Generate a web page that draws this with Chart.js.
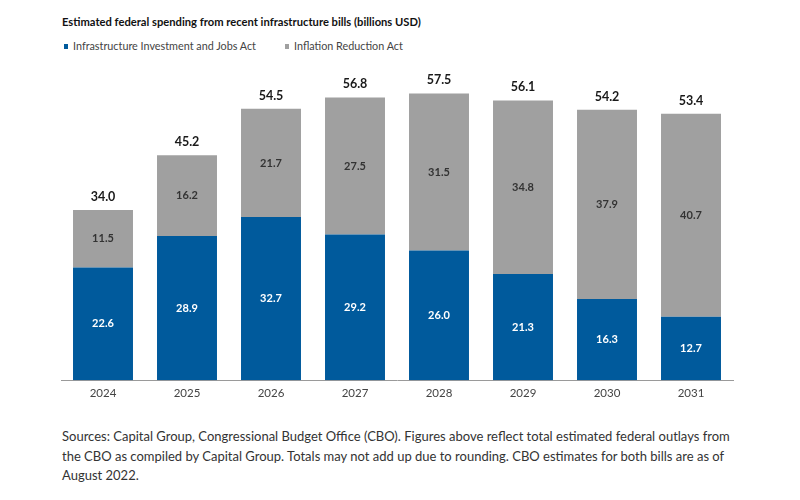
<!DOCTYPE html>
<html>
<head>
<meta charset="utf-8">
<script src="https://cdn.jsdelivr.net/npm/chart.js@4"></script>
<style>
  html, body { margin: 0; padding: 0; background: #fff; }
  body { width: 800px; height: 500px; position: relative; overflow: hidden; font-family: Lato, "Open Sans", sans-serif; }
  #title { position: absolute; left: 62px; top: 15px; font-size: 11.2px; font-weight: bold; color: #111; white-space: nowrap; }
  #legend { position: absolute; left: 64px; top: 39px; font-size: 10.8px; color: #444; white-space: nowrap; }
  .li { position: absolute; top: 0; white-space: nowrap; }
  .sw { display: inline-block; width: 4px; height: 5px; margin-right: 5px; vertical-align: 1px; }
  #wrap { position: absolute; left: 0; top: 0; width: 800px; height: 410px; }
  #foot { position: absolute; left: 62px; top: 427px; width: 720px; font-size: 13px; line-height: 19.5px; color: #333; white-space: nowrap; }
</style>
</head>
<body>
<div id="title">Estimated federal spending from recent infrastructure bills (billions USD)</div>
<div id="legend"></div>
<div id="wrap"><canvas id="c"></canvas></div>
<div id="foot">Sources: Capital Group, Congressional Budget Office (CBO). Figures above reflect total estimated federal outlays from<br>the CBO as compiled by Capital Group. Totals may not add up due to rounding. CBO estimates for both bills are as of<br>August 2022.</div>
<script>
const years = ["2024", "2025", "2026", "2027", "2028", "2029", "2030", "2031"];
const iija = [22.6, 28.9, 32.7, 29.2, 26.0, 21.3, 16.3, 12.7];
const ira = [11.5, 16.2, 21.7, 27.5, 31.5, 34.8, 37.9, 40.7];
const totals = [34.0, 45.2, 54.5, 56.8, 57.5, 56.1, 54.2, 53.4];
const seriesNames = ["Infrastructure Investment and Jobs Act", "Inflation Reduction Act"];
const colors = ["#005a9c", "#a0a0a0"];
const labelColors = ["#ffffff", "#333333"];

// legend
const legend = document.getElementById('legend');
const legendX = [0, 221];
seriesNames.forEach((n, i) => {
  const d = document.createElement('span');
  d.className = 'li';
  d.style.left = legendX[i] + 'px';
  d.innerHTML = '<span class="sw" style="background:' + colors[i] + '"></span>' + n;
  legend.appendChild(d);
});

const labelPlugin = {
  id: 'valueLabels',
  afterDatasetsDraw(chart) {
    const ctx = chart.ctx;
    ctx.save();
    ctx.textAlign = 'center';
    ctx.textBaseline = 'middle';
    chart.data.datasets.forEach((ds, di) => {
      const meta = chart.getDatasetMeta(di);
      meta.data.forEach((bar, i) => {
        const p = bar.getProps(['x', 'y', 'base'], true);
        ctx.fillStyle = labelColors[di];
        ctx.font = 'bold 11px Lato, "Open Sans", sans-serif';
        ctx.fillText(ds.data[i].toFixed(1), p.x, (p.y + p.base) / 2);
      });
    });
    const top = chart.getDatasetMeta(chart.data.datasets.length - 1);
    top.data.forEach((bar, i) => {
      const p = bar.getProps(['x', 'y'], true);
      ctx.fillStyle = '#1a1a1a';
      ctx.font = 'bold 12.5px Lato, "Open Sans", sans-serif';
      ctx.fillText(totals[i].toFixed(1), p.x, p.y - 13);
    });
    ctx.restore();
  }
};

new Chart(document.getElementById('c'), {
  type: 'bar',
  data: {
    labels: years,
    datasets: [
      { label: seriesNames[0], data: iija, backgroundColor: colors[0], borderWidth: 0 },
      { label: seriesNames[1], data: ira, backgroundColor: colors[1], borderWidth: 0 }
    ]
  },
  options: {
    responsive: true,
    maintainAspectRatio: false,
    animation: false,
    layout: { padding: { left: 61, right: 67, top: 56, bottom: 4 } },
    datasets: { bar: { barPercentage: 0.714, categoryPercentage: 1.0 } },
    plugins: { legend: { display: false }, title: { display: false }, tooltip: { enabled: false } },
    scales: {
      x: {
        stacked: true,
        grid: { display: false, drawTicks: false },
        border: { display: true, color: '#9a9a9a', width: 1 },
        ticks: { color: '#444', padding: 6, font: { size: 11.5, family: 'Lato, "Open Sans", sans-serif' } }
      },
      y: {
        stacked: true,
        display: false,
        min: 0,
        max: 65
      }
    }
  },
  plugins: [labelPlugin]
});
</script>
</body>
</html>
